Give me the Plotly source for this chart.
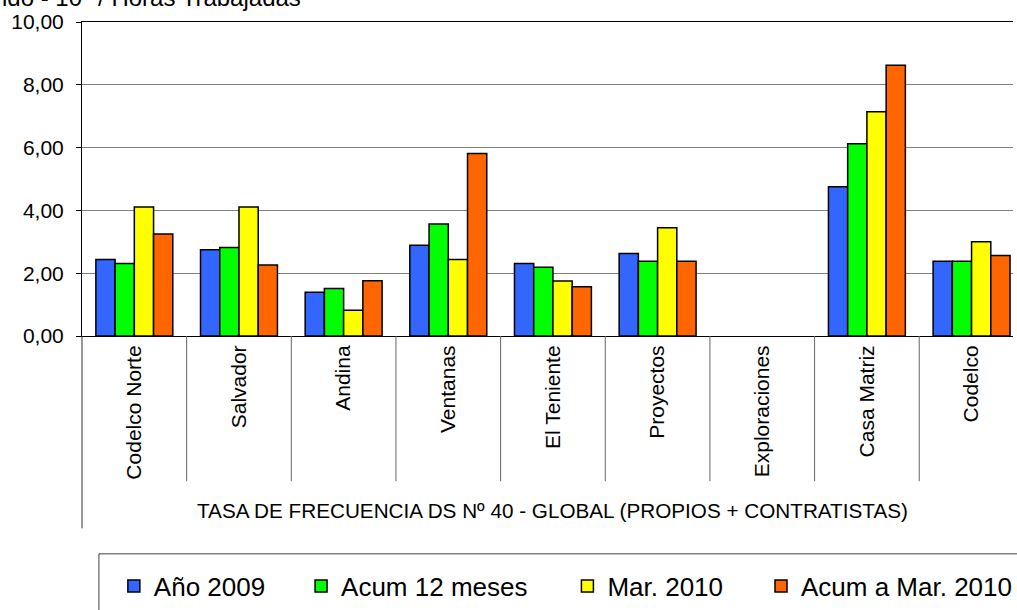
import plotly.graph_objects as go

categories = ["Codelco Norte", "Salvador", "Andina", "Ventanas", "El Teniente",
              "Proyectos", "Exploraciones", "Casa Matriz", "Codelco"]
series_names = ["Año 2009", "Acum 12 meses", "Mar. 2010", "Acum a Mar. 2010"]
anio_2009 = [2.44, 2.75, 1.39, 2.89, 2.31, 2.63, 0.0, 4.75, 2.38]
acum_12_meses = [2.31, 2.82, 1.51, 3.57, 2.19, 2.38, 0.0, 6.12, 2.38]
mar_2010 = [4.11, 4.11, 0.82, 2.44, 1.75, 3.45, 0.0, 7.14, 3.00]
acum_mar_2010 = [3.25, 2.26, 1.76, 5.81, 1.57, 2.38, 0.0, 8.62, 2.56]
y_ticks = [0, 2, 4, 6, 8, 10]
x_title = "TASA DE FRECUENCIA DS Nº 40 - GLOBAL (PROPIOS + CONTRATISTAS)"
y_title = "ido - 10<sup>6</sup> / Horas Trabajadas"

colors = ["#3366FF", "#00FF00", "#FFFF00", "#FF6600"]
series = [anio_2009, acum_12_meses, mar_2010, acum_mar_2010]
legend_ids = ["legend", "legend2", "legend3", "legend4"]

W, H = 1017, 610
L, T, PB = 82, 22, 342  # plot left, top, bottom in px
PW = W - L
PH = PB - T

def px_x(px):
    return (px - L) / PW

def px_y(py):
    return (PB - py) / PH

FONT = "Liberation Sans, Arial, sans-serif"

fig = go.Figure()
for name, vals, col, lid in zip(series_names, series, colors, legend_ids):
    fig.add_trace(go.Bar(
        x=categories, y=vals, name=name, legend=lid, showlegend=True,
        marker=dict(color=col,
                    line=dict(color="#000000",
                              width=[1.5 if v > 0 else 0 for v in vals])),
    ))

# legend entry positions (symbol centre, px)
legend_sym_x = [134, 322, 589.5, 784]
legend_sym_y = 597
leg_common = dict(font=dict(family=FONT, size=26, color="#000000"),
                  bgcolor="rgba(0,0,0,0)", borderwidth=0, visible=True,
                  xanchor="left", yanchor="middle", orientation="h")
legend_layout = {}
for lid, sx in zip(legend_ids, legend_sym_x):
    legend_layout[lid] = dict(x=px_x(sx - 20), y=px_y(legend_sym_y), **leg_common)

shapes = []
# category separators below the axis
for i in range(1, len(categories)):
    shapes.append(dict(type="line", xref="x", yref="paper",
                       x0=i - 0.5, x1=i - 0.5, y0=0, y1=px_y(490),
                       line=dict(color="#666666", width=1)))
# left axis extension
shapes.append(dict(type="line", xref="paper", yref="paper",
                   x0=0, x1=0, y0=0, y1=px_y(538),
                   line=dict(color="#333333", width=1)))
# legend box
shapes.append(dict(type="rect", xref="paper", yref="paper",
                   x0=px_x(99), x1=1.1, y0=px_y(564), y1=-1.0,
                   line=dict(color="#404040", width=1), fillcolor="rgba(0,0,0,0)"))

n = len(categories)
fig.update_layout(
    width=W, height=H,
    margin=dict(l=L, r=0, t=T, b=H - PB, pad=0),
    paper_bgcolor="white", plot_bgcolor="white",
    barmode="group", bargap=0.265, bargroupgap=0,
    separators=",.",
    showlegend=True,
    font=dict(family=FONT, size=21, color="#000000"),
    shapes=shapes,
    annotations=[
        dict(text=x_title, xref="x", yref="paper", x=(n - 1) / 2, y=px_y(520),
             xanchor="center", yanchor="middle", showarrow=False,
             font=dict(family=FONT, size=20.7, color="#000000")),
        dict(text=y_title, xref="paper", yref="paper", x=px_x(0), y=px_y(13),
             xanchor="left", yanchor="bottom", showarrow=False,
             font=dict(family=FONT, size=24, color="#000000")),
    ],
    **legend_layout,
)
fig.update_xaxes(
    type="category", range=[-0.5, 8.396],
    tickangle=-90, ticks="", showgrid=False,
    showline=True, linecolor="#000000", linewidth=1, mirror=True,
    tickfont=dict(family=FONT, size=21, color="#000000"),
)
fig.update_yaxes(
    range=[0, 10], tickvals=y_ticks, tickformat=".2f",
    ticks="outside", ticklen=5, tickcolor="#000000", ticklabelstandoff=8,
    showgrid=True, gridcolor="#808080", gridwidth=1,
    showline=True, linecolor="#000000", linewidth=1, zeroline=False,
    tickfont=dict(family=FONT, size=21, color="#000000"),
)

fig.write_html("out.html", config={"displayModeBar": False},
               post_script="document.body.style.margin='0';document.body.style.overflow='hidden';")
